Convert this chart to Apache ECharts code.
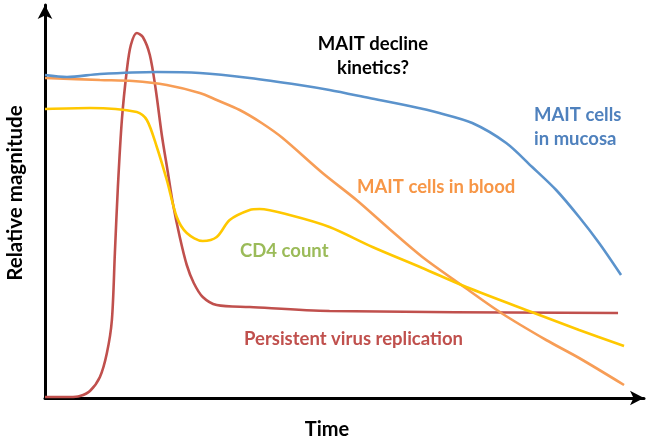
<!DOCTYPE html>
<html><head><meta charset="utf-8">
<script src="https://cdn.jsdelivr.net/npm/echarts@6/dist/echarts.min.js"></script>
<style>html,body{margin:0;padding:0;background:#fff}#c{width:649px;height:442px}</style>
</head><body><div id="c"></div>
<script>
// Values in arbitrary units: x = time (0..600), y = relative magnitude (0..393)
const mucosa = [[0,323],[22,321],[55,324],[112,326],[155,325],[205,320],[255,313],[285,308],[325,300],[365,292],[395,285],[428,275],[462,255],[488,231],[512,208],[535,181],[555,155],[577,123]];
const blood = [[0,320],[55,318],[88,317],[122,313],[155,305],[172,298],[195,288],[217,275],[238,260],[278,225],[312,198],[345,169],[378,141],[417,113],[457,85],[502,58],[535,40],[580,13]];
const cd4 = [[0,289],[45,290],[92,286],[102,278],[112,251],[122,218],[132,181],[142,165],[158,157],[172,161],[185,178],[205,188],[215,189],[245,183],[285,171],[328,151],[378,130],[422,111],[490,85],[535,68],[580,52]];
const virus = [[0,1],[25,1],[35,2],[45,7],[55,21],[62,45],[67,78],[70,145],[73,211],[77,278],[82,328],[86,353],[92,365],[98,361],[105,343],[111,308],[117,263],[123,226],[128,195],[135,161],[142,133],[149,115],[158,101],[172,93],[205,91],[285,87],[574,85]];
const labels = {
  kinetics: 'MAIT decline\nkinetics?',
  mucosa: 'MAIT cells\nin mucosa',
  blood: 'MAIT cells in blood',
  cd4: 'CD4 count',
  virus: 'Persistent virus replication',
  xName: 'Time',
  yName: 'Relative magnitude'
};
const FONT = 'Lato';
const chart = echarts.init(document.getElementById('c'), null, {renderer:'canvas'});
function line(data, color){
  return {type:'line', data, smooth:0.3, symbol:'none',
    lineStyle:{color, width:2.6}, silent:true, animation:false};
}
const axisCommon = {
  axisTick:{show:false}, axisLabel:{show:false}, splitLine:{show:false},
  axisLine:{show:true, symbol:['none','arrow'], symbolSize:[11,14], lineStyle:{color:'#000', width:3}}
};
chart.setOption({
  animation:false,
  grid:{left:45, right:5, top:5, bottom:44, containLabel:false, outerBoundsMode:'none'},
  xAxis:Object.assign({}, axisCommon, {type:'value', min:0, max:600}),
  yAxis:Object.assign({}, axisCommon, {type:'value', min:0, max:393}),
  series:[
    line(virus, '#c0504d'),
    line(blood, '#f79d56'),
    line(cd4, '#ffc800'),
    line(mucosa, '#5b93cc')
  ],
  graphic:[
    {type:'text', x:327, y:430, style:{text:labels.xName, font:'bold 20px '+FONT, fill:'#000', align:'center', verticalAlign:'middle'}},
    {type:'text', x:15, y:193, rotation:Math.PI/2, style:{text:labels.yName, font:'bold 20.5px '+FONT, fill:'#000', align:'center', verticalAlign:'middle'}},
    {type:'text', x:373, y:56, style:{text:labels.kinetics, font:'bold 18.5px '+FONT, fill:'#000', align:'center', verticalAlign:'middle', lineHeight:24}},
    {type:'text', x:534, y:127, style:{text:labels.mucosa, font:'bold 18.5px '+FONT, fill:'#4f81bd', align:'left', verticalAlign:'middle', lineHeight:24}},
    {type:'text', x:357, y:187, style:{text:labels.blood, font:'bold 18.5px '+FONT, fill:'#f79646', align:'left', verticalAlign:'middle'}},
    {type:'text', x:240, y:251, style:{text:labels.cd4, font:'bold 18.5px '+FONT, fill:'#9bbb59', align:'left', verticalAlign:'middle'}},
    {type:'text', x:244, y:339, style:{text:labels.virus, font:'bold 18.5px '+FONT, fill:'#c0504d', align:'left', verticalAlign:'middle'}}
  ]
});
</script></body></html>
